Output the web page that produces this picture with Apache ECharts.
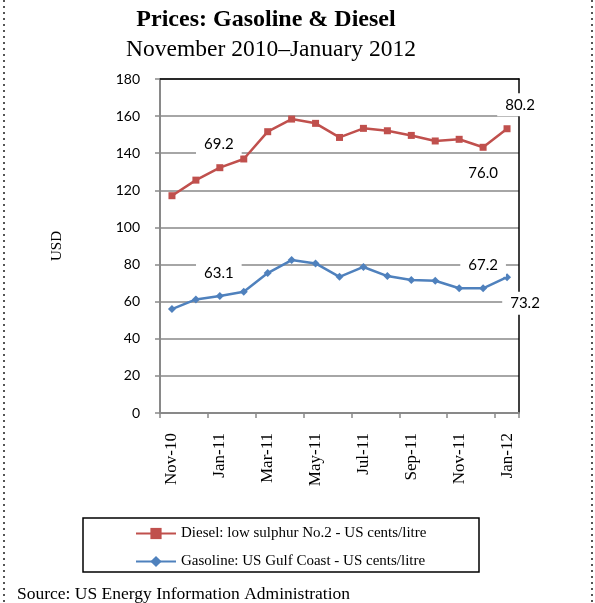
<!DOCTYPE html>
<html>
<head>
<meta charset="utf-8">
<script src="https://cdn.jsdelivr.net/npm/echarts@6/dist/echarts.min.js"></script>
<style>
  html, body { margin: 0; padding: 0; background: #fff; }
  #chart { width: 595px; height: 603px; }
</style>
</head>
<body>
<div id="chart"></div>
<script>
// Monthly categories, Nov 2010 – Jan 2012
const months = ['Nov-10', 'Dec-10', 'Jan-11', 'Feb-11', 'Mar-11', 'Apr-11', 'May-11', 'Jun-11',
                'Jul-11', 'Aug-11', 'Sep-11', 'Oct-11', 'Nov-11', 'Dec-11', 'Jan-12'];

// Diesel: low sulphur No.2
const diesel = [117.1, 125.5, 132.2, 136.9, 151.6, 158.4, 156.1, 148.5,
                153.4, 152.1, 149.6, 146.6, 147.5, 143.2, 153.2];

// Gasoline: US Gulf Coast
const gasoline = [56.0, 61.2, 63.1, 65.4, 75.4, 82.4, 80.6, 73.4,
                  78.7, 73.8, 71.7, 71.3, 67.2, 67.2, 73.2];

// Callout texts on selected diesel points
const dieselNoteIdx = [2, 13, 14];
const dieselNotes = ['69.2', '76.0', '80.2'];

// Gasoline points whose value is labelled
const gasolineLabelIdx = [2, 13, 14];

const yTicks = { min: 0, max: 180, interval: 20 };

const SANS = 'Lato, "Open Sans", sans-serif';
const SERIF = '"Liberation Serif", "DejaVu Serif", serif';

const calloutStyle = {
  show: true,
  position: 'inside',
  color: '#000',
  fontFamily: SANS,
  fontSize: 15,
  backgroundColor: '#fff',
  padding: [4, 8]
};

// where each callout sits relative to its point
const dieselOffsets = [[-1, -24], [0, 26], [13, -24]];
const gasolineOffsets = [[-1, -23], [0, -23], [18, 26]];

function buildDiesel() {
  return diesel.map((v, i) => {
    const k = dieselNoteIdx.indexOf(i);
    if (k < 0) return v;
    return {
      value: v,
      label: Object.assign({}, calloutStyle, {
        offset: dieselOffsets[k],
        formatter: () => dieselNotes[k]
      })
    };
  });
}

function buildGasoline() {
  return gasoline.map((v, i) => {
    const k = gasolineLabelIdx.indexOf(i);
    if (k < 0) return v;
    return {
      value: v,
      label: Object.assign({}, calloutStyle, {
        offset: gasolineOffsets[k],
        formatter: (p) => p.value.toFixed(1)
      })
    };
  });
}

const chart = echarts.init(document.getElementById('chart'), null, { renderer: 'canvas' });

const gridColor = '#898989';

chart.setOption({
  animation: false,
  backgroundColor: '#fff',
  title: [
    {
      text: 'Prices: Gasoline & Diesel',
      left: 261, top: 3, textAlign: 'center',
      textStyle: { fontFamily: SERIF, fontWeight: 'bold', fontSize: 24, color: '#000' }
    },
    {
      text: 'November 2010\u2013January 2012',
      left: 266, top: 33, textAlign: 'center',
      textStyle: { fontFamily: SERIF, fontWeight: 'normal', fontSize: 23.5, color: '#000' }
    }
  ],
  grid: { left: 160, right: 76, top: 79, bottom: 190, containLabel: false },
  legend: {
    orient: 'vertical',
    left: 135,
    top: 526,
    itemWidth: 40,
    itemHeight: 14,
    itemGap: 13,
    padding: 0,
    textStyle: { fontFamily: SERIF, fontSize: 15, color: '#000' },
    data: ['Diesel: low sulphur No.2 - US cents/litre', 'Gasoline: US Gulf Coast - US cents/litre']
  },
  xAxis: [
    {
      type: 'category',
      data: months,
      boundaryGap: true,
      axisLine: { lineStyle: { color: gridColor, width: 2 } },
      axisTick: { show: true, interval: 1, length: 5, lineStyle: { color: gridColor, width: 1.5 } },
      axisLabel: {
        interval: 1, rotate: 90, margin: 20,
        fontFamily: SERIF, fontSize: 17, color: '#000'
      },
      splitLine: { show: false }
    },
    {
      type: 'category',
      data: months,
      position: 'top',
      axisLine: { show: true, onZero: false, lineStyle: { color: '#000', width: 1.5 } },
      axisTick: { show: false },
      axisLabel: { show: false },
      splitLine: { show: false }
    }
  ],
  yAxis: [
    {
      type: 'value',
      min: yTicks.min, max: yTicks.max, interval: yTicks.interval,
      name: 'USD',
      nameLocation: 'middle',
      nameGap: 95,
      nameRotate: 90,
      nameTextStyle: { fontFamily: SERIF, fontSize: 15, color: '#000' },
      axisLine: { show: true, lineStyle: { color: gridColor, width: 2 } },
      axisTick: { show: true, length: 5, lineStyle: { color: gridColor, width: 1.5 } },
      axisLabel: { margin: 20, fontFamily: SANS, fontSize: 14, color: '#000' },
      splitLine: { show: true, lineStyle: { color: gridColor, width: 1.5 } }
    },
    {
      type: 'value',
      min: yTicks.min, max: yTicks.max, interval: yTicks.interval,
      position: 'right',
      axisLine: { show: true, lineStyle: { color: '#000', width: 1.5 } },
      axisTick: { show: false },
      axisLabel: { show: false },
      splitLine: { show: false }
    }
  ],
  series: [
    {
      name: 'Diesel: low sulphur No.2 - US cents/litre',
      type: 'line',
      data: buildDiesel(),
      symbol: 'rect',
      symbolSize: 7,
      lineStyle: { color: '#C0504D', width: 2.5 },
      itemStyle: { color: '#C0504D' },
      z: 3
    },
    {
      name: 'Gasoline: US Gulf Coast - US cents/litre',
      type: 'line',
      data: buildGasoline(),
      symbol: 'diamond',
      symbolSize: 8,
      lineStyle: { color: '#4F81BD', width: 2.5 },
      itemStyle: { color: '#4F81BD' },
      z: 3
    }
  ],
  graphic: [
    // legend frame
    { type: 'rect', shape: { x: 83, y: 518, width: 396, height: 54 },
      style: { fill: 'none', stroke: '#000', lineWidth: 1.5 }, z: 1 },
    // page frame, dotted sides
    { type: 'line', shape: { x1: 4, y1: 0, x2: 4, y2: 603 },
      style: { stroke: '#555', lineWidth: 2, lineDash: [2, 4] } },
    { type: 'line', shape: { x1: 592, y1: 0, x2: 592, y2: 603 },
      style: { stroke: '#555', lineWidth: 2, lineDash: [2, 4] } },
    // source note
    { type: 'text', left: 17, top: 585,
      style: { text: 'Source: US Energy Information Administration',
               font: '17.5px ' + SERIF, fill: '#000' } }
  ]
});
</script>
</body>
</html>
